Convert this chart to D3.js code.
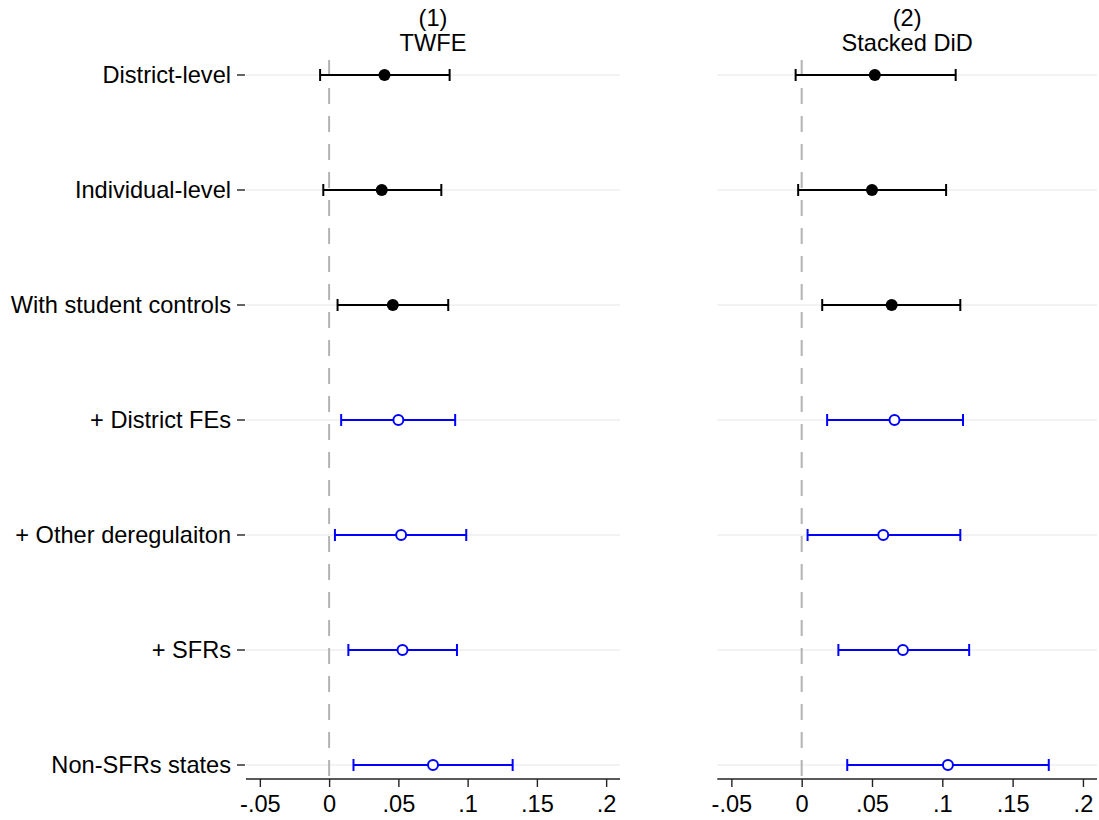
<!DOCTYPE html>
<html>
<head>
<meta charset="utf-8">
<script src="https://cdn.jsdelivr.net/npm/d3@7"></script>
<style>
	body { margin: 0; background: #fff; }
	svg { display: block; font-family: "Liberation Sans", Arial, Helvetica, sans-serif; }
</style>
</head>
<body>
<div id="chart"></div>
<script>
var rows = ['District-level', 'Individual-level', 'With student controls', '+ District FEs', '+ Other deregulaiton', '+ SFRs', 'Non-SFRs states'];
var hollow = [false, false, false, true, true, true, true];
var panelTitles = [['(1)', 'TWFE'], ['(2)', 'Stacked DiD']];
var tickValues = [-0.05, 0, 0.05, 0.1, 0.15, 0.2];
var tickLabels = ['-.05', '0', '.05', '.1', '.15', '.2'];

// TWFE
var twfeEst  = [0.040, 0.038, 0.046, 0.050, 0.052, 0.053, 0.075];
var twfeLow  = [-0.0065, -0.0042, 0.0061, 0.0087, 0.0042, 0.0139, 0.0176];
var twfeHigh = [0.087, 0.081, 0.086, 0.091, 0.099, 0.0923, 0.1325];

// Stacked DiD
var stackEst  = [0.052, 0.050, 0.064, 0.066, 0.058, 0.072, 0.104];
var stackLow  = [-0.0043, -0.0025, 0.0146, 0.0181, 0.0042, 0.0261, 0.0324];
var stackHigh = [0.1095, 0.1027, 0.1128, 0.1147, 0.1128, 0.1191, 0.1757];

var W = 1099, H = 820;
var FS = 23.6;
var svg = d3.select('#chart').append('svg').attr('width', W).attr('height', H);

var y = d3.scalePoint().domain(rows).range([75, 765]);
var plotTop = 60, axisY = 779;

var panels = [
	{ x: d3.scaleLinear().domain([-0.06, 0.21]).range([246, 620]), est: twfeEst, low: twfeLow, high: twfeHigh, labels: true },
	{ x: d3.scaleLinear().domain([-0.06, 0.21]).range([717.3, 1097]), est: stackEst, low: stackLow, high: stackHigh, labels: false }
];

panels.forEach(function(p, pi){
	var g = svg.append('g');
	var x0 = p.x.range()[0], x1 = p.x.range()[1];

	// gridlines
	g.selectAll('line.grid').data(rows).enter().append('line')
		.attr('x1', x0).attr('x2', x1)
		.attr('y1', function(d){ return y(d); }).attr('y2', function(d){ return y(d); })
		.attr('stroke', '#e6e6e6').attr('stroke-width', 1);

	// zero line
	g.append('line')
		.attr('x1', p.x(0)).attr('x2', p.x(0))
		.attr('y1', plotTop).attr('y2', axisY)
		.attr('stroke', '#b3b3b3').attr('stroke-width', 2)
		.attr('stroke-dasharray', '16,12');

	// x axis
	var ax = g.append('g').attr('transform', 'translate(0,' + axisY + ')')
		.call(d3.axisBottom(p.x).tickValues(tickValues).tickSize(8).tickPadding(8)
			.tickFormat(function(d, i){ return tickLabels[i]; }));
	ax.select('.domain').attr('stroke', '#222').attr('stroke-width', 1.4).attr('d', 'M' + x0 + ',0H' + x1);
	ax.selectAll('.tick line').attr('stroke', '#222').attr('stroke-width', 1.4);
	ax.selectAll('.tick text').attr('font-size', FS).attr('fill', '#000')
		.attr('font-family', '"Liberation Sans", Arial, sans-serif');

	// y labels
	if(p.labels){
		var yl = g.append('g');
		rows.forEach(function(r){
			yl.append('line').attr('x1', x0 - 9).attr('x2', x0 - 1)
				.attr('y1', y(r)).attr('y2', y(r)).attr('stroke', '#222').attr('stroke-width', 1.4);
			yl.append('text').attr('x', x0 - 15).attr('y', y(r) + 8)
				.attr('text-anchor', 'end').attr('font-size', FS).attr('fill', '#000').text(r);
		});
	}

	// titles
	var cx = (x0 + x1) / 2;
	g.append('text').attr('x', cx).attr('y', 26).attr('text-anchor', 'middle')
		.attr('font-size', FS).text(panelTitles[pi][0]);
	g.append('text').attr('x', cx).attr('y', 51).attr('text-anchor', 'middle')
		.attr('font-size', FS).text(panelTitles[pi][1]);

	// error bars + markers
	rows.forEach(function(r, i){
		var col = hollow[i] ? '#0000ff' : '#000';
		var yy = y(r);
		g.append('line').attr('x1', p.x(p.low[i])).attr('x2', p.x(p.high[i]))
			.attr('y1', yy).attr('y2', yy).attr('stroke', col).attr('stroke-width', 2);
		[p.low[i], p.high[i]].forEach(function(v){
			g.append('line').attr('x1', p.x(v)).attr('x2', p.x(v))
				.attr('y1', yy - 6).attr('y2', yy + 6).attr('stroke', col).attr('stroke-width', 2);
		});
		if(hollow[i]){
			g.append('circle').attr('cx', p.x(p.est[i])).attr('cy', yy).attr('r', 5)
				.attr('fill', '#fff').attr('stroke', col).attr('stroke-width', 2);
		}else{
			g.append('circle').attr('cx', p.x(p.est[i])).attr('cy', yy).attr('r', 6)
				.attr('fill', col);
		}
	});
});
</script>
</body>
</html>
